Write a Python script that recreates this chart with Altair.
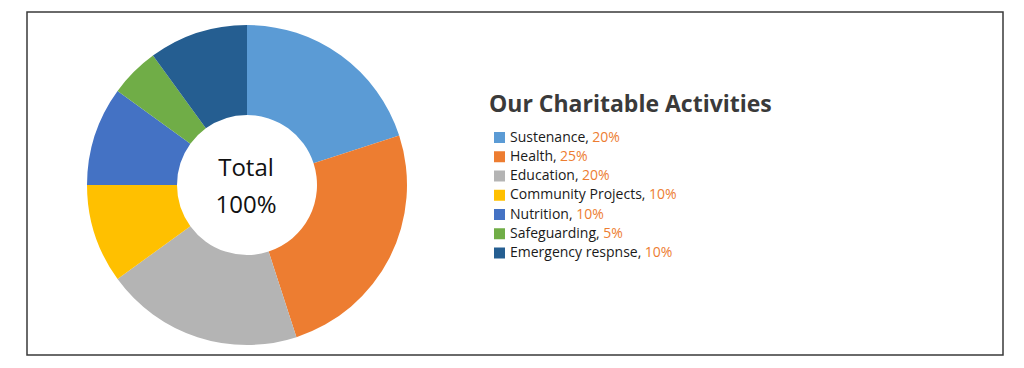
import altair as alt
import pandas as pd

categories = ["Sustenance", "Health", "Education", "Community Projects",
              "Nutrition", "Safeguarding", "Emergency respnse"]
values = [20, 25, 20, 10, 10, 5, 10]
colors = ["#5B9BD5", "#ED7D31", "#B4B4B4", "#FFC000", "#4472C4", "#70AD47", "#255E91"]
title_text = "Our Charitable Activities"
center_lines = ["Total", "100%"]

FONT = "Open Sans"
LEG_SIZE = 14
# approximate Open Sans Regular advance widths (units per em = 2048)
GLYPH_W = {
    " ": 532, ",": 502, "S": 1104, "H": 1511, "E": 1124, "C": 1284, "P": 1235, "N": 1604,
    "a": 1139, "c": 975, "d": 1255, "e": 1149, "f": 694, "g": 1122, "h": 1257, "i": 518,
    "j": 518, "l": 518, "m": 1905, "n": 1257, "o": 1237, "p": 1255, "r": 836, "s": 977,
    "t": 723, "u": 1257, "y": 1028,
}


def text_width(s, size):
    return sum(GLYPH_W.get(ch, 1150) for ch in s) * size / 2048.0


labels = [f"{c}, " for c in categories]
df = pd.DataFrame({
    "category": categories,
    "value": values,
    "order": list(range(len(categories))),
    "label": labels,
    "pct": [f"{v}%" for v in values],
    "pct_x": [502 + text_width(l, LEG_SIZE) for l in labels],
})

color_scale = alt.Scale(domain=categories, range=colors)
leg_y = alt.Y("category:N", sort=categories, axis=None,
              scale=alt.Scale(type="point", range=[129.5, 245], padding=0))

frame = alt.Chart(pd.DataFrame({"a": [0]})).mark_rect(
    fill=None, stroke="#3a3a3a", strokeWidth=1.5
).encode(x=alt.value(19), x2=alt.value(995), y=alt.value(4), y2=alt.value(347))

pie = alt.Chart(df).mark_arc(radius=160, innerRadius=70, stroke=None).encode(
    theta=alt.Theta("value:Q", stack=True),
    order=alt.Order("order:Q"),
    color=alt.Color("category:N", scale=color_scale, legend=None),
    x=alt.value(239), y=alt.value(177),
)

center = alt.Chart(pd.DataFrame({"t": center_lines, "i": [0, 1]})).mark_text(
    font=FONT, fontSize=24, color="#111111", align="center", baseline="alphabetic"
).encode(
    text="t:N",
    x=alt.value(238),
    y=alt.Y("i:O", axis=None, scale=alt.Scale(type="point", range=[168, 205], padding=0)),
)

title = alt.Chart(pd.DataFrame({"t": [title_text]})).mark_text(
    font=FONT, fontSize=23, fontWeight="bold", color="#3a3a3a",
    align="left", baseline="alphabetic"
).encode(text="t:N", x=alt.value(481), y=alt.value(104))

squares = alt.Chart(df).mark_square(size=121, opacity=1).encode(
    x=alt.value(491.5), y=leg_y,
    color=alt.Color("category:N", scale=color_scale, legend=None),
)

label_txt = alt.Chart(df).mark_text(
    font=FONT, fontSize=LEG_SIZE, color="#1a1a1a", align="left", baseline="middle"
).encode(text="label:N", x=alt.value(502), y=leg_y)

pct_txt = alt.Chart(df).mark_text(
    font=FONT, fontSize=LEG_SIZE, color="#ED7D31", align="left", baseline="middle"
).encode(
    text="pct:N",
    x=alt.X("pct_x:Q", axis=None, scale=alt.Scale(domain=[0, 1008], range=[0, 1008])),
    y=leg_y,
)

chart = alt.layer(frame, pie, center, title, squares, label_txt, pct_txt).resolve_scale(
    y="independent", x="independent", color="shared"
).properties(
    width=1008, height=352, padding=0,
    autosize=alt.AutoSizeParams(type="none"),
).configure_view(stroke=None)

chart.save("out.html", embed_options={"renderer": "svg", "actions": False})
